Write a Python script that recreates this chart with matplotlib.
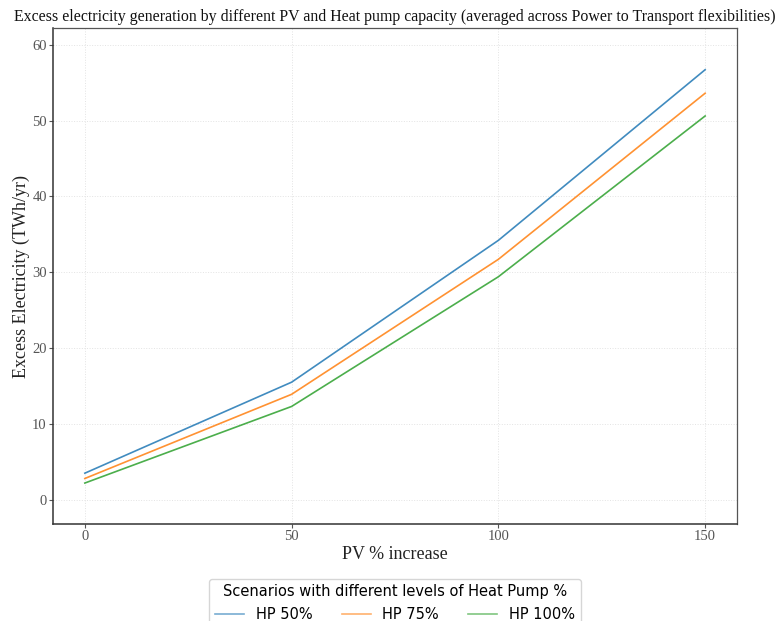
import matplotlib
matplotlib.use("Agg")
import matplotlib.pyplot as plt

# PV capacity increase (%) on x, excess electricity (TWh/yr) per heat pump level
pv_increase = [0, 50, 100, 150]
hp_labels = ["HP 50%", "HP 75%", "HP 100%"]
hp50 = [3.5, 15.5, 34.2, 56.7]
hp75 = [2.8, 13.9, 31.7, 53.6]
hp100 = [2.2, 12.3, 29.4, 50.6]
colors = ["#1f77b4", "#ff7f0e", "#2ca02c"]

serif = ["Liberation Serif", "DejaVu Serif"]

fig = plt.figure(figsize=(7.76, 6.21), dpi=100)
ax = fig.add_axes([0.0683, 0.1562, 0.8814, 0.7987])

for vals, lab, c in zip([hp50, hp75, hp100], hp_labels, colors):
    ax.plot(pv_increase, vals, color=c, lw=1.2, alpha=0.85, label=lab)

ax.set_xlim(-7.7, 157.7)
ax.set_ylim(-3.2, 62.2)
ax.set_xticks([0, 50, 100, 150])
ax.set_yticks([0, 10, 20, 30, 40, 50, 60])
ax.grid(True, color="#e3e3e3", lw=0.7, ls=":")
ax.set_axisbelow(True)

for s in ["top", "right"]:
    ax.spines[s].set_color("#555555")
    ax.spines[s].set_linewidth(0.9)
for s in ["left", "bottom"]:
    ax.spines[s].set_color("#333333")
    ax.spines[s].set_linewidth(1.1)

for lbl in ax.get_xticklabels() + ax.get_yticklabels():
    lbl.set_fontfamily(serif)
    lbl.set_fontsize(10.5)
    lbl.set_color("#333333")
ax.tick_params(colors="#555555", length=3, pad=1.5)

ax.set_xlabel("PV % increase", family=serif, fontsize=13, color="#222222", labelpad=2)
ax.set_ylabel("Excess Electricity (TWh/yr)", family=serif, fontsize=13, color="#222222")
ax.yaxis.set_label_coords(-0.034, 0.5)
ax.set_title("Excess electricity generation by different PV and Heat pump capacity "
             "(averaged across Power to Transport flexibilities)",
             family=serif, fontsize=11.4, color="#111111", pad=5)

leg = fig.legend(*ax.get_legend_handles_labels(), loc="upper center",
                 bbox_to_anchor=(0.509, 0.08), ncol=3, fontsize=10.5,
                 title="Scenarios with different levels of Heat Pump %",
                 title_fontsize=10.5, frameon=True)
for h in leg.legend_handles:
    h.set_alpha(0.6)

fig.savefig("out.png", dpi=100)
